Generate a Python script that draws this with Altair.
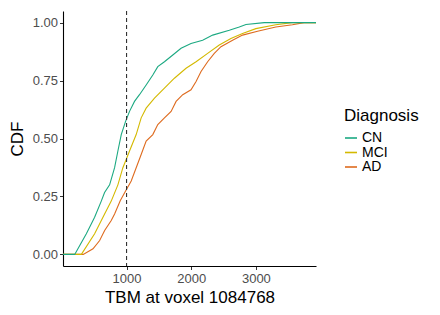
import altair as alt
import pandas as pd

groups = ["CN", "MCI", "AD"]
colors = ["#1ca982", "#d4b900", "#de6b1f"]

x_min, x_max = 17, 3930

cn_x = [198, 378, 506, 609, 660, 738, 815, 866, 918, 985, 1046, 1123, 1200, 1303, 1406,
        1483, 1586, 1715, 1843, 1997, 2177, 2332, 2589, 2743, 2847, 3130]
cn_y = [0.0, 0.089, 0.16, 0.23, 0.267, 0.30, 0.374, 0.446, 0.517, 0.574, 0.617, 0.66, 0.689,
        0.731, 0.774, 0.81, 0.831, 0.86, 0.889, 0.91, 0.924, 0.946, 0.967, 0.981, 0.992, 1.0]

mci_x = [301, 506, 635, 763, 866, 943, 985, 1046, 1149, 1226, 1303, 1432, 1586, 1740, 1920,
         2075, 2254, 2434, 2614, 2794, 3000, 3308, 3562]
mci_y = [0.0, 0.089, 0.16, 0.23, 0.30, 0.374, 0.403, 0.446, 0.517, 0.589, 0.631, 0.674, 0.717,
         0.76, 0.803, 0.831, 0.867, 0.903, 0.931, 0.953, 0.974, 0.991, 1.0]

ad_x = [330, 481, 584, 661, 763, 815, 902, 985, 1072, 1149, 1226, 1303, 1406, 1483, 1586,
        1689, 1766, 1869, 1997, 2075, 2152, 2254, 2357, 2460, 2640, 2794, 3026, 3308, 3565, 3745]
ad_y = [0.0, 0.024, 0.06, 0.103, 0.146, 0.174, 0.231, 0.274, 0.317, 0.374, 0.431, 0.489, 0.517,
        0.56, 0.589, 0.617, 0.66, 0.689, 0.71, 0.746, 0.789, 0.831, 0.867, 0.896, 0.924, 0.946,
        0.963, 0.981, 0.991, 1.0]

series = {"CN": (cn_x, cn_y), "MCI": (mci_x, mci_y), "AD": (ad_x, ad_y)}
rows = []
for g, (xs, ys) in series.items():
    rows.append({"Diagnosis": g, "x": x_min, "cdf": 0.0})
    for xv, yv in zip(xs, ys):
        rows.append({"Diagnosis": g, "x": xv, "cdf": yv})
    rows.append({"Diagnosis": g, "x": x_max, "cdf": 1.0})
df = pd.DataFrame(rows)
df["i"] = range(len(df))

font = "Liberation Sans"

xscale = alt.Scale(domain=[x_min, x_max], nice=False, zero=False)
yscale = alt.Scale(domain=[-0.05, 1.05], nice=False)
cscale = alt.Scale(domain=groups, range=colors)

def layer(g):
    return alt.Chart(df).transform_filter(alt.datum.Diagnosis == g).mark_line(
        strokeWidth=1.1, clip=True
    ).encode(
        x=alt.X("x:Q", scale=xscale,
                axis=alt.Axis(values=[1000, 2000, 3000], format="d",
                              title="TBM at voxel 1084768")),
        y=alt.Y("cdf:Q", scale=yscale,
                axis=alt.Axis(values=[0, 0.25, 0.5, 0.75, 1.0], format=".2f", title="CDF")),
        color=alt.Color("Diagnosis:N", scale=cscale, title="Diagnosis"),
        order="i:Q",
    )

rule = alt.Chart(pd.DataFrame({"x": [1000]})).mark_rule(
    strokeDash=[4, 3], color="#333333", strokeWidth=1.1
).encode(x=alt.X("x:Q", scale=xscale))

chart = alt.layer(layer("AD"), layer("MCI"), layer("CN"), rule).properties(
    width=253, height=255,
    padding={"left": 0, "top": 2, "right": 5, "bottom": 5},
).configure_view(stroke=None).configure_axis(
    grid=False, domainColor="black", domainWidth=1.1, tickColor="#333333",
    tickSize=3.5, labelFont=font, labelFontSize=13, labelColor="#4d4d4d",
    titleFont=font, titleFontSize=17, titleFontWeight="normal", titleColor="black",
).configure_axisY(labelPadding=2, titlePadding=6).configure_axisX(
    labelPadding=3, titlePadding=4
).configure_legend(
    orient="none", legendX=281, legendY=97,
    titleFont=font, titleFontSize=17, titleFontWeight="normal", titleColor="black",
    labelFont=font, labelFontSize=14, labelColor="black",
    symbolType="stroke", symbolSize=144, symbolStrokeWidth=1.6, rowPadding=0.5,
    titlePadding=6,
)

chart.save("out.html", embed_options={"renderer": "svg", "actions": False})
